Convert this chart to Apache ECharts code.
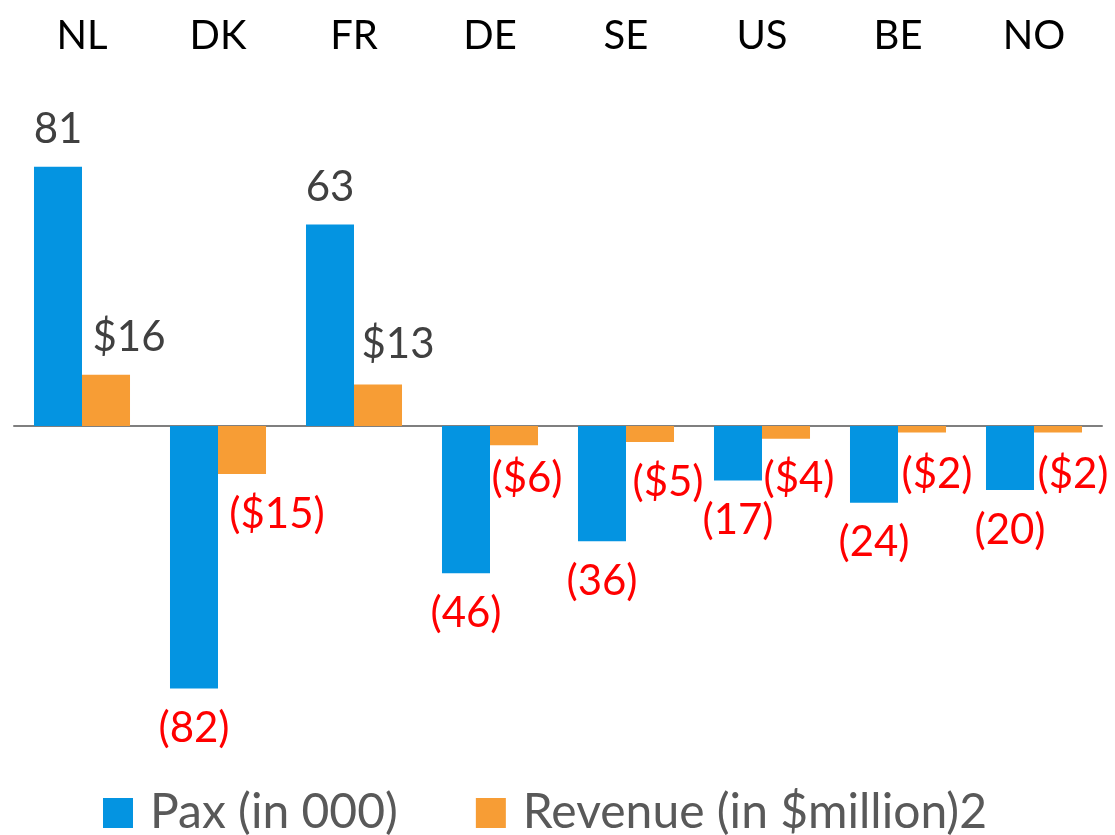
<!DOCTYPE html>
<html>
<head>
<meta charset="utf-8">
<script src="https://cdn.jsdelivr.net/npm/echarts@6/dist/echarts.min.js"></script>
<style>
  html, body { margin: 0; padding: 0; background: #fff; }
  #chart { width: 1115px; height: 835px; }
</style>
</head>
<body>
<div id="chart"></div>
<script>
// data
var countries = ['NL', 'DK', 'FR', 'DE', 'SE', 'US', 'BE', 'NO'];
var pax = [81, -82, 63, -46, -36, -17, -24, -20];
var revenue = [16, -15, 13, -6, -5, -4, -2, -2];
var seriesNames = ['Pax (in 000)', 'Revenue (in $million)2'];

// label nudges for the revenue bars (the original labels were moved by hand)
var revLabelShift = [[23, 0], [35, 0], [20, -3], [13, -7], [18, 0], [13, 0], [15, 2], [15, 2]];

var FONT = 'Lato';

function paxText(v) {
    return v < 0 ? '(' + (-v) + ')' : String(v);
}
function revText(v) {
    return v < 0 ? '($' + (-v) + ')' : '$' + v;
}

function labelFor(v, txt, shift) {
    var neg = v < 0;
    return {
        show: true,
        position: neg ? 'bottom' : 'top',
        distance: neg ? 19 : 16,
        offset: shift || [0, 0],
        formatter: txt,
        color: neg ? '#ff0000' : '#404040',
        fontSize: 42,
        fontFamily: FONT
    };
}

var paxData = pax.map(function (v) {
    return { value: v, label: labelFor(v, paxText(v)) };
});
var revData = revenue.map(function (v, i) {
    return { value: v, label: labelFor(v, revText(v), revLabelShift[i]) };
});

var option = {
    animation: false,
    color: ['#0494e1', '#f79d35'],
    textStyle: { fontFamily: FONT },
    grid: {
        left: 14,
        width: 1088,
        top: 106,
        height: 640,
        containLabel: false
    },
    legend: {
        left: 103,
        top: 789,
        padding: 0,
        icon: 'rect',
        itemWidth: 30,
        itemHeight: 30,
        itemGap: 78,
        textStyle: {
            color: '#595959',
            fontSize: 48,
            fontFamily: FONT,
            padding: [0, 0, 0, 12]
        },
        data: seriesNames
    },
    xAxis: [
        {
            type: 'category',
            position: 'top',
            data: countries,
            axisLine: { show: false, onZero: false },
            axisTick: { show: false },
            axisLabel: {
                color: '#000',
                fontSize: 40,
                fontFamily: FONT,
                margin: 50
            }
        },
        {
            type: 'category',
            position: 'bottom',
            data: countries,
            axisLine: {
                show: true,
                onZero: true,
                lineStyle: { color: '#7f7f7f', width: 2 }
            },
            axisTick: { show: false },
            axisLabel: { show: false }
        }
    ],
    yAxis: {
        type: 'value',
        min: -100,
        max: 100,
        show: false,
        splitLine: { show: false }
    },
    series: [
        {
            name: seriesNames[0],
            type: 'bar',
            barGap: '0%',
            barCategoryGap: '29.4%',
            data: paxData
        },
        {
            name: seriesNames[1],
            type: 'bar',
            barGap: '0%',
            barCategoryGap: '29.4%',
            data: revData
        }
    ]
};

var myChart = echarts.init(document.getElementById('chart'));
myChart.setOption(option);
</script>
</body>
</html>
